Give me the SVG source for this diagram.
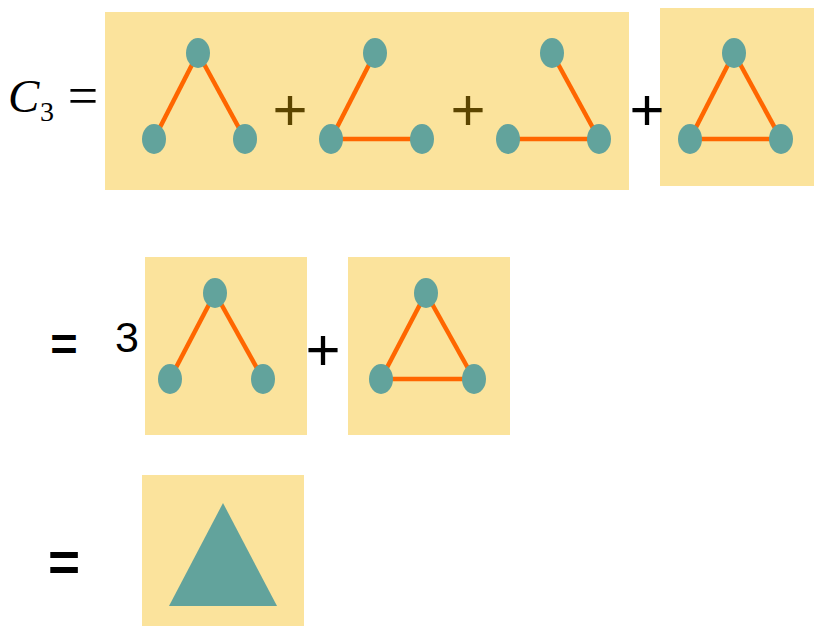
<svg xmlns="http://www.w3.org/2000/svg" width="814" height="626" viewBox="0 0 814 626">
<style>
.panel{fill:#fbe39c}
.v{fill:#62a39c}
.e{stroke:#ff6600;stroke-width:4.5;fill:none}
.sans{font-family:"Liberation Sans",Arial,sans-serif}
.ser{font-family:"Liberation Serif","Times New Roman",serif}
</style>
<rect width="814" height="626" fill="#ffffff"/>
<g id="panels">
<rect id="panel1" class="panel" x="105" y="12" width="524" height="178"/>
<rect id="panel2" class="panel" x="660" y="8" width="154" height="178"/>
<rect id="panel3" class="panel" x="145" y="257" width="162" height="178"/>
<rect id="panel4" class="panel" x="348" y="257" width="162" height="178"/>
<rect id="panel5" class="panel" x="142" y="475" width="162" height="151"/>
</g>
<g id="connectors">
<line class="e" x1="198" y1="53" x2="154" y2="139"/>
<line class="e" x1="198" y1="53" x2="245" y2="139"/>
<line class="e" x1="375" y1="53" x2="331" y2="139"/>
<line class="e" x1="331" y1="139" x2="422" y2="139"/>
<line class="e" x1="552" y1="53" x2="599" y2="139"/>
<line class="e" x1="508" y1="139" x2="599" y2="139"/>
<line class="e" x1="734" y1="53" x2="690" y2="139"/>
<line class="e" x1="734" y1="53" x2="781" y2="139"/>
<line class="e" x1="690" y1="139" x2="781" y2="139"/>
<line class="e" x1="215" y1="293" x2="170" y2="379"/>
<line class="e" x1="215" y1="293" x2="263" y2="379"/>
<line class="e" x1="426" y1="293" x2="381" y2="379"/>
<line class="e" x1="426" y1="293" x2="474" y2="379"/>
<line class="e" x1="381" y1="379" x2="474" y2="379"/>
</g>
<g id="g1a"><ellipse class="v" cx="198" cy="53" rx="12" ry="15"/></g>
<g id="g1b"><ellipse class="v" cx="154" cy="139" rx="12" ry="15"/></g>
<g id="g1c"><ellipse class="v" cx="245" cy="139" rx="12" ry="15"/></g>
<g id="g2a"><ellipse class="v" cx="375" cy="53" rx="12" ry="15"/></g>
<g id="g2b"><ellipse class="v" cx="331" cy="139" rx="12" ry="15"/></g>
<g id="g2c"><ellipse class="v" cx="422" cy="139" rx="12" ry="15"/></g>
<g id="g3a"><ellipse class="v" cx="552" cy="53" rx="12" ry="15"/></g>
<g id="g3b"><ellipse class="v" cx="508" cy="139" rx="12" ry="15"/></g>
<g id="g3c"><ellipse class="v" cx="599" cy="139" rx="12" ry="15"/></g>
<g id="g4a"><ellipse class="v" cx="734" cy="53" rx="12" ry="15"/></g>
<g id="g4b"><ellipse class="v" cx="690" cy="139" rx="12" ry="15"/></g>
<g id="g4c"><ellipse class="v" cx="781" cy="139" rx="12" ry="15"/></g>
<g id="g5a"><ellipse class="v" cx="215" cy="293" rx="12" ry="15"/></g>
<g id="g5b"><ellipse class="v" cx="170" cy="379" rx="12" ry="15"/></g>
<g id="g5c"><ellipse class="v" cx="263" cy="379" rx="12" ry="15"/></g>
<g id="g6a"><ellipse class="v" cx="426" cy="293" rx="12" ry="15"/></g>
<g id="g6b"><ellipse class="v" cx="381" cy="379" rx="12" ry="15"/></g>
<g id="g6c"><ellipse class="v" cx="474" cy="379" rx="12" ry="15"/></g>
<g id="triangle"><polygon class="v" points="223,503 169,606 277,606"/></g>
<g id="labels">
<text class="ser" x="8" y="112" font-size="47" font-style="italic">C</text>
<text class="ser" x="40" y="121" font-size="28">3</text>
<text class="ser" x="83" y="114" font-size="54" text-anchor="middle">=</text>
<text class="sans" x="290" y="130" font-size="60" text-anchor="middle" fill="#5c4500">+</text>
<text class="sans" x="468" y="130" font-size="60" text-anchor="middle" fill="#5c4500">+</text>
<text class="sans" x="647" y="130" font-size="60" text-anchor="middle" fill="#000">+</text>
<text class="sans" x="64" y="360" font-size="47" font-weight="bold" text-anchor="middle">=</text>
<text class="sans" x="127" y="352" font-size="43" text-anchor="middle">3</text>
<text class="sans" x="323" y="370" font-size="60" text-anchor="middle">+</text>
<text class="sans" x="64" y="581" font-size="55" font-weight="bold" text-anchor="middle">=</text>
</g>
</svg>
